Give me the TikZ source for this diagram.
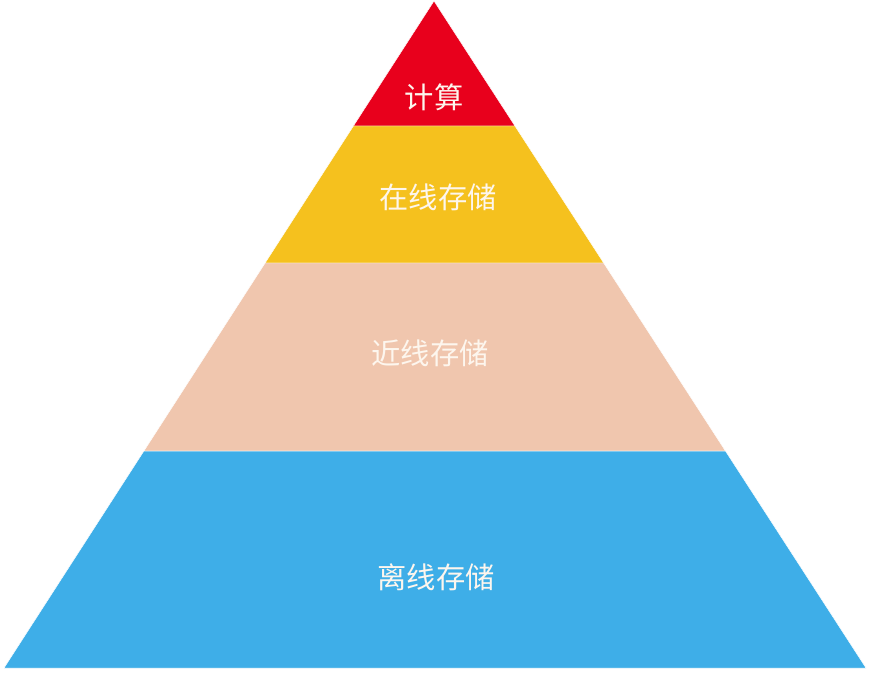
\documentclass[tikz,border=0pt]{standalone}
\usepackage{fontspec}
\newfontfamily\cjk{Noto Sans CJK SC}
\usetikzlibrary{calc,positioning}

\definecolor{layerred}{RGB}{232,0,28}
\definecolor{layeryellow}{RGB}{245,193,30}
\definecolor{layerpeach}{RGB}{240,198,174}
\definecolor{layerblue}{RGB}{62,174,232}
\definecolor{labelwhite}{RGB}{253,246,238}

\begin{document}
\begin{tikzpicture}[
    x=0.03cm,
    y=-0.03cm,
    layer/.style={
        draw=white,
        line width=0.4pt
    },
    label/.style={
        font=\cjk\fontsize{25}{30}\selectfont,
        text=labelwhite,
        inner sep=0pt
    }
]

\useasboundingbox[fill=white] (0,0) rectangle (870,675);

% Outline of the pyramid
\coordinate (apex) at (434,1);
\coordinate (bl) at (4,668);
\coordinate (br) at (866,668);

% Level boundaries
\coordinate (l1) at ($(apex)!0.1874!(bl)$);
\coordinate (r1) at ($(apex)!0.1874!(br)$);
\coordinate (l2) at ($(apex)!0.3928!(bl)$);
\coordinate (r2) at ($(apex)!0.3928!(br)$);
\coordinate (l3) at ($(apex)!0.6747!(bl)$);
\coordinate (r3) at ($(apex)!0.6747!(br)$);

% Layers
\filldraw[layer, fill=layerred] (apex) -- (r1) -- (l1) -- cycle;
\filldraw[layer, fill=layeryellow] (l1) -- (r1) -- (r2) -- (l2) -- cycle;
\filldraw[layer, fill=layerpeach] (l2) -- (r2) -- (r3) -- (l3) -- cycle;
\filldraw[layer, fill=layerblue] (l3) -- (r3) -- (br) -- (bl) -- cycle;

% Labels
\node[label] (compute) at (434,97) {计算};
\node[label] (online) at (438,197) {在线存储};
\node[label] (nearline) at (430,353) {近线存储};
\node[label] (offline) at (436,577) {离线存储};

\end{tikzpicture}
\end{document}
